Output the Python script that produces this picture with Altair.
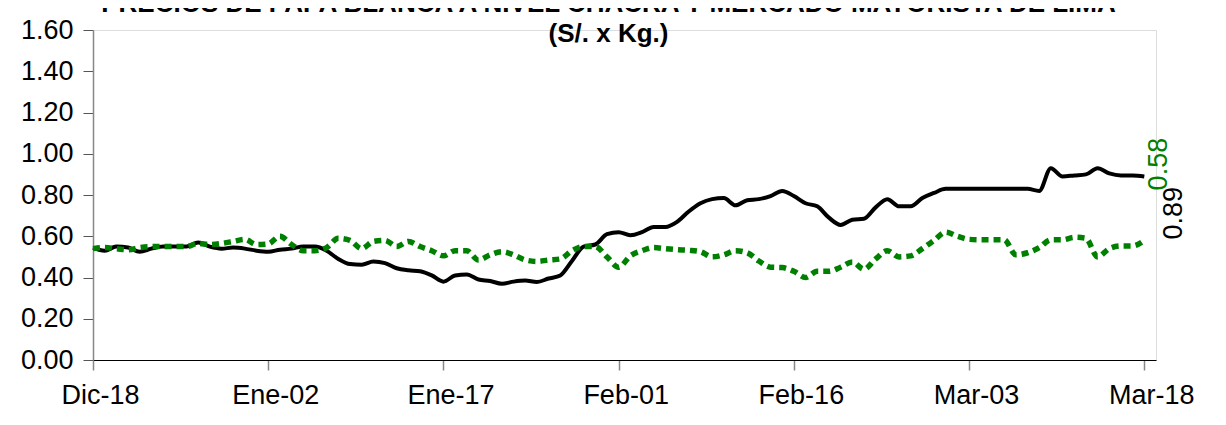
import altair as alt
import pandas as pd

# Daily series, 18-Dic-2017 .. 18-Mar-2018
fechas = pd.date_range("2017-12-18", "2018-03-18", freq="D")

mercado = [0.545, 0.53, 0.55, 0.545, 0.525, 0.54, 0.55, 0.55, 0.55, 0.57,
           0.55, 0.54, 0.545, 0.54, 0.53, 0.525, 0.535, 0.54, 0.55, 0.55,
           0.53, 0.49, 0.465, 0.462, 0.478, 0.47, 0.445, 0.435, 0.43, 0.41,
           0.38, 0.41, 0.415, 0.39, 0.383, 0.37, 0.38, 0.385, 0.378, 0.395,
           0.41, 0.48, 0.55, 0.56, 0.61, 0.62, 0.605, 0.62, 0.645, 0.645,
           0.67, 0.72, 0.76, 0.78, 0.785, 0.75, 0.775, 0.78, 0.795, 0.82,
           0.795, 0.76, 0.745, 0.69, 0.655, 0.68, 0.685, 0.74, 0.78, 0.745,
           0.745, 0.785, 0.81, 0.83, 0.83, 0.83, 0.83, 0.83, 0.83, 0.83,
           0.83, 0.82, 0.93, 0.89, 0.895, 0.90, 0.93, 0.905, 0.895, 0.895,
           0.89]

chacra = [0.54, 0.545, 0.54, 0.534, 0.545, 0.55, 0.55, 0.55, 0.55, 0.565,
          0.56, 0.565, 0.575, 0.585, 0.56, 0.563, 0.60, 0.56, 0.53, 0.53,
          0.545, 0.59, 0.58, 0.54, 0.575, 0.58, 0.55, 0.575, 0.55, 0.53,
          0.505, 0.53, 0.53, 0.485, 0.51, 0.525, 0.51, 0.485, 0.478, 0.485,
          0.49, 0.53, 0.55, 0.55, 0.50, 0.45, 0.505, 0.53, 0.545, 0.54,
          0.535, 0.532, 0.525, 0.50, 0.51, 0.53, 0.52, 0.48, 0.45, 0.448,
          0.43, 0.40, 0.43, 0.43, 0.45, 0.475, 0.44, 0.49, 0.53, 0.50,
          0.505, 0.54, 0.58, 0.62, 0.60, 0.585, 0.583, 0.583, 0.583, 0.51,
          0.52, 0.545, 0.583, 0.583, 0.595, 0.59, 0.50, 0.54, 0.553, 0.553,
          0.58]

tick_fechas = ["2017-12-18", "2018-01-02", "2018-01-17", "2018-02-01",
               "2018-02-16", "2018-03-03", "2018-03-18"]
y_ticks = [0.0, 0.2, 0.4, 0.6, 0.8, 1.0, 1.2, 1.4, 1.6]

titulo = ["PRECIOS DE PAPA BLANCA A NIVEL CHACRA Y MERCADO MAYORISTA DE LIMA",
          "(S/. x Kg.)"]

df = pd.DataFrame({"fecha": fechas, "mercado": mercado, "chacra": chacra})
last = df.tail(1)

FONT = "Liberation Sans"

x_scale = alt.Scale(domain=[alt.DateTime(year=2017, month=12, date=18, utc=True),
                            alt.DateTime(year=2018, month=3, date=19, utc=True)],
                    nice=False)
y_scale = alt.Scale(domain=[0, 1.6], nice=False)

x_axis = alt.Axis(
    values=[alt.DateTime(year=int(d[:4]), month=int(d[5:7]), date=int(d[8:]), utc=True) for d in tick_fechas],
    labelExpr="['Ene','Feb','Mar','Abr','May','Jun','Jul','Ago','Set','Oct','Nov','Dic'][utcmonth(datum.value)] + '-' + utcFormat(datum.value, '%d')",
    title=None, grid=False, domainColor="#000000", domainWidth=1.2,
    tickColor="#888888", tickSize=10, tickWidth=1.5,
    labelFont=FONT, labelFontSize=27, labelColor="#000000",
    labelPadding=12, labelOffset=7, labelFlush=False, labelOverlap=False,
)
y_axis = alt.Axis(
    values=y_ticks, format=".2f", title=None, grid=False,
    domainColor="#888888", domainWidth=1.5,
    tickColor="#555555", tickSize=10, tickWidth=1,
    labelFont=FONT, labelFontSize=27, labelColor="#000000", labelPadding=10,
)

base = alt.Chart(df)

negro = base.mark_line(color="#000000", strokeWidth=4, interpolate="monotone").encode(
    x=alt.X("fecha:T", scale=x_scale, axis=x_axis),
    y=alt.Y("mercado:Q", scale=y_scale, axis=y_axis),
)
verde = base.mark_line(color="#008000", strokeWidth=5.5, strokeDash=[7, 5],
                       interpolate="monotone").encode(
    x=alt.X("fecha:T", scale=x_scale),
    y=alt.Y("chacra:Q", scale=y_scale),
)

lab_verde = alt.Chart(last).mark_text(
    angle=270, align="left", baseline="middle", font=FONT, fontSize=27,
    color="#008000", dx=50, dy=15,
).encode(
    x=alt.X("fecha:T", scale=x_scale),
    y=alt.Y("chacra:Q", scale=y_scale),
    text=alt.Text("chacra:Q", format=".2f"),
)
lab_negro = alt.Chart(last).mark_text(
    angle=270, align="left", baseline="middle", font=FONT, fontSize=27,
    color="#000000", dx=-63, dy=30,
).encode(
    x=alt.X("fecha:T", scale=x_scale),
    y=alt.Y("mercado:Q", scale=y_scale),
    text=alt.Text("mercado:Q", format=".2f"),
)

chart = alt.layer(negro, verde, lab_verde, lab_negro).properties(
    width=1063, height=330,
    title=alt.TitleParams(titulo, font=FONT, fontSize=26, fontWeight="bold",
                          lineHeight=30, color="#000000", anchor="middle",
                          frame="group", offset=-31, dx=-16),
    autosize="none",
    padding={"left": 85, "top": 22, "right": 45, "bottom": 55},
).configure_view(stroke=None).configure(background="#ffffff")

chart.save("out.html", embed_options={"renderer": "svg", "actions": False})
